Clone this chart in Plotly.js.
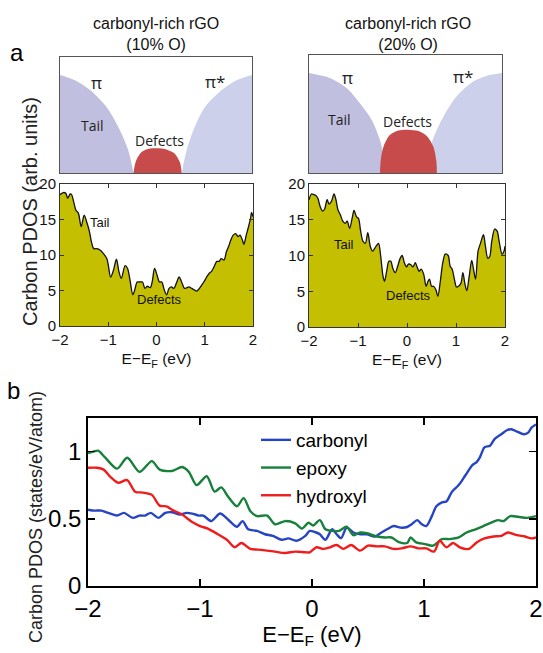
<!DOCTYPE html>
<html>
<head>
<meta charset="utf-8">
<script src="https://cdn.plot.ly/plotly-3.0.1.min.js"></script>
<style>html,body{margin:0;padding:0;background:#fff;}#chart{width:543px;height:653px;}</style>
</head>
<body>
<div id="chart"></div>
<script>
// ---------- Panel a : schematic outlines ----------
const schem10_piE   = [-2.0, -1.69, -1.375, -1.03, -0.79, -0.58, -0.47];
const schem10_piVal = [0.845, 0.80, 0.716, 0.57, 0.40, 0.198, 0];
const schem10_pisE   = [0.535, 0.64, 0.81, 1.02, 1.37, 1.68, 2.0];
const schem10_pisVal = [0, 0.198, 0.40, 0.57, 0.716, 0.80, 0.845];
const schem10_defE   = [-0.47, -0.42, -0.3, -0.15, 0.03, 0.2, 0.38, 0.5, 0.535];
const schem10_defVal = [0, 0.1, 0.18, 0.208, 0.213, 0.205, 0.17, 0.09, 0];

const schem20_piE   = [-2.0, -1.57, -1.22, -0.95, -0.70, -0.53, -0.43, -0.39];
const schem20_piVal = [0.847, 0.805, 0.72, 0.593, 0.45, 0.28, 0.11, 0];
const schem20_pisE   = [0.51, 0.545, 0.79, 1.06, 1.41, 1.69, 2.0];
const schem20_pisVal = [0, 0.254, 0.48, 0.65, 0.777, 0.825, 0.847];
const schem20_defE   = [-0.53, -0.51, -0.45, -0.33, -0.15, 0.06, 0.27, 0.45, 0.58, 0.64, 0.65];
const schem20_defVal = [0, 0.12, 0.23, 0.32, 0.36, 0.367, 0.355, 0.31, 0.22, 0.1, 0];

// ---------- Panel a : carbon PDOS (arb. units) ----------
const pdos10_E = [-2.00,-1.93,-1.88,-1.84,-1.79,-1.76,-1.71,-1.67,-1.62,-1.56,-1.50,-1.44,-1.39,-1.34,-1.30,-1.24,-1.17,-1.10,-1.03,-1.00,-0.95,-0.89,-0.83,-0.78,-0.73,-0.65,-0.60,-0.55,-0.49,-0.45,-0.40,-0.34,-0.29,-0.24,-0.19,-0.13,-0.09,-0.04,0.01,0.06,0.11,0.16,0.21,0.26,0.31,0.36,0.41,0.47,0.52,0.58,0.63,0.67,0.73,0.78,0.83,0.89,0.94,0.98,1.04,1.09,1.14,1.19,1.25,1.30,1.34,1.40,1.45,1.50,1.54,1.59,1.64,1.69,1.73,1.78,1.81,1.86,1.90,1.95,1.97,2.00];
const pdos10_val = [18.5,18.8,18.7,18.0,18.6,18.5,17.3,16.3,15.9,14.0,15.6,14.5,13.3,11.6,10.9,10.9,10.7,10.2,9.5,8.6,6.9,7.9,9.4,7.7,6.7,8.5,8.1,6.5,4.4,5.1,6.2,6.2,6.2,5.3,5.6,5.4,6.2,8.1,7.2,6.2,6.2,5.1,4.4,5.3,5.5,5.3,6.0,6.9,6.2,5.3,5.4,5.5,5.3,5.1,4.9,5.3,5.8,6.2,6.9,7.4,7.7,8.3,9.1,9.1,9.5,9.3,10.5,11.3,12.1,12.8,13.0,12.6,12.8,12.1,11.5,12.8,13.8,15.2,16.0,15.4];

const pdos20_E = [-2.00,-1.95,-1.90,-1.86,-1.82,-1.77,-1.72,-1.68,-1.63,-1.59,-1.54,-1.49,-1.45,-1.41,-1.36,-1.31,-1.26,-1.22,-1.17,-1.12,-1.08,-1.03,-0.99,-0.95,-0.90,-0.85,-0.80,-0.75,-0.70,-0.66,-0.61,-0.58,-0.54,-0.49,-0.46,-0.41,-0.37,-0.33,-0.29,-0.24,-0.19,-0.14,-0.10,-0.05,-0.01,0.03,0.08,0.12,0.17,0.20,0.25,0.29,0.34,0.39,0.43,0.46,0.50,0.54,0.59,0.63,0.68,0.73,0.78,0.84,0.88,0.92,0.97,1.01,1.05,1.10,1.14,1.18,1.22,1.27,1.32,1.36,1.40,1.45,1.50,1.56,1.60,1.65,1.69,1.73,1.79,1.84,1.88,1.94,1.98,2.00];
const pdos20_val = [17.8,18.6,18.5,18.4,18.0,16.8,16.2,16.5,17.8,17.2,17.6,18.6,17.8,16.4,15.7,14.8,14.5,14.8,13.8,15.2,16.3,15.4,15.2,13.6,12.0,11.7,13.2,11.3,10.6,11.0,11.5,11.7,10.1,7.1,6.4,8.0,9.2,9.2,8.2,7.6,8.5,9.6,10.0,8.9,8.4,8.8,8.7,8.4,9.0,8.5,7.8,8.1,7.4,5.7,6.4,6.7,5.7,5.7,5.2,4.3,6.4,9.0,10.2,10.0,8.5,8.1,6.6,5.6,5.7,6.1,7.6,6.1,5.1,7.1,9.3,8.0,6.7,10.6,11.7,12.9,11.3,9.6,9.9,12.0,13.7,13.4,12.0,10.2,10.6,11.3];

// ---------- Panel b : carbon PDOS (states/eV/atom) ----------
const carbonyl_E = [-2.00,-1.94,-1.88,-1.82,-1.74,-1.68,-1.60,-1.54,-1.49,-1.44,-1.37,-1.31,-1.25,-1.18,-1.12,-1.07,-1.01,-0.97,-0.90,-0.82,-0.75,-0.67,-0.62,-0.57,-0.49,-0.42,-0.35,-0.27,-0.21,-0.14,-0.06,-0.02,0.03,0.07,0.12,0.18,0.22,0.26,0.31,0.37,0.43,0.49,0.56,0.61,0.67,0.73,0.79,0.85,0.89,0.94,0.98,1.02,1.07,1.11,1.16,1.20,1.25,1.31,1.37,1.43,1.47,1.50,1.54,1.59,1.63,1.69,1.74,1.78,1.83,1.89,1.93,1.96,2.00];
const carbonyl_val = [0.568,0.561,0.561,0.544,0.524,0.544,0.507,0.524,0.524,0.544,0.507,0.544,0.549,0.532,0.544,0.539,0.524,0.524,0.483,0.539,0.495,0.441,0.483,0.422,0.410,0.385,0.373,0.344,0.354,0.337,0.373,0.410,0.400,0.385,0.344,0.422,0.385,0.356,0.434,0.398,0.385,0.385,0.368,0.393,0.422,0.446,0.434,0.439,0.459,0.490,0.459,0.446,0.520,0.593,0.622,0.629,0.702,0.751,0.824,0.898,0.922,0.959,1.032,1.044,1.093,1.129,1.159,1.166,1.149,1.129,1.141,1.178,1.202];

const epoxy_E = [-2.00,-1.95,-1.91,-1.85,-1.74,-1.65,-1.54,-1.43,-1.36,-1.25,-1.16,-1.10,-1.03,-0.94,-0.87,-0.81,-0.75,-0.67,-0.61,-0.55,-0.49,-0.40,-0.33,-0.24,-0.15,-0.09,-0.03,0.01,0.07,0.12,0.18,0.24,0.31,0.37,0.43,0.49,0.58,0.65,0.71,0.77,0.85,0.88,0.93,1.01,1.08,1.16,1.23,1.31,1.38,1.46,1.53,1.60,1.66,1.71,1.77,1.84,1.92,2.00];
const epoxy_val = [0.988,1.000,1.007,0.959,0.873,0.954,0.849,0.929,0.866,0.856,0.885,0.849,0.751,0.817,0.702,0.734,0.666,0.593,0.654,0.556,0.520,0.524,0.459,0.483,0.466,0.427,0.471,0.450,0.490,0.422,0.410,0.410,0.441,0.378,0.398,0.393,0.368,0.361,0.361,0.329,0.320,0.361,0.324,0.312,0.300,0.349,0.349,0.361,0.398,0.422,0.446,0.471,0.490,0.483,0.520,0.515,0.507,0.520];

const hydroxyl_E = [-2.00,-1.92,-1.86,-1.80,-1.73,-1.65,-1.58,-1.51,-1.43,-1.36,-1.30,-1.24,-1.16,-1.07,-1.00,-0.93,-0.84,-0.76,-0.69,-0.63,-0.55,-0.48,-0.40,-0.33,-0.24,-0.15,-0.06,-0.02,0.04,0.10,0.16,0.22,0.28,0.35,0.43,0.50,0.58,0.65,0.73,0.80,0.88,0.95,1.02,1.09,1.14,1.20,1.26,1.32,1.40,1.47,1.54,1.62,1.69,1.75,1.83,1.90,1.96,2.00];
const hydroxyl_val = [0.880,0.880,0.866,0.812,0.768,0.788,0.702,0.695,0.678,0.598,0.593,0.563,0.532,0.476,0.446,0.427,0.385,0.344,0.288,0.320,0.276,0.271,0.263,0.256,0.246,0.256,0.251,0.251,0.288,0.276,0.288,0.305,0.276,0.305,0.263,0.300,0.295,0.295,0.276,0.280,0.295,0.280,0.280,0.256,0.337,0.288,0.320,0.288,0.276,0.324,0.354,0.368,0.373,0.398,0.378,0.368,0.354,0.361];

// ---------- tick labels ----------
const energyTicks = [-2, -1, 0, 1, 2];
const energyTickText = ['\u22122', '\u22121', '0', '1', '2'];
const pdosATicks = [0, 5, 10, 15, 20];
const pdosBTicks = [0, 0.5, 1];
const pdosBTickText = ['0', '0.5', '1'];

const FONT = 'Liberation Sans, Arial, Helvetica, sans-serif';
const SFONT = 'Open Sans, Noto Sans, sans-serif';
const lobeL = '#c0bfdf', lobeR = '#cdd0ea', defCol = '#c84b4b', olive = '#c4bf00';

function area(x, y, xa, ya, col) {
  return {x: x, y: y, xaxis: xa, yaxis: ya, type: 'scatter', mode: 'lines',
    line: {shape: 'spline', smoothing: 0.8, width: 0, color: col},
    fill: 'tozeroy', fillcolor: col, showlegend: false, hoverinfo: 'skip'};
}
function pdosA(x, y, xa, ya) {
  return {x: x, y: y, xaxis: xa, yaxis: ya, type: 'scatter', mode: 'lines',
    line: {shape: 'spline', smoothing: 0.9, width: 1.3, color: '#111'},
    fill: 'tozeroy', fillcolor: olive, showlegend: false};
}
function lineB(x, y, name, col) {
  return {x: x, y: y, xaxis: 'x5', yaxis: 'y5', type: 'scatter', mode: 'lines', name: name,
    line: {shape: 'spline', smoothing: 0.8, width: 2.4, color: col}};
}

const data = [
  area(schem10_piE, schem10_piVal, 'x', 'y', lobeL),
  area(schem10_pisE, schem10_pisVal, 'x', 'y', lobeR),
  area(schem10_defE, schem10_defVal, 'x', 'y', defCol),
  area(schem20_piE, schem20_piVal, 'x2', 'y2', lobeL),
  area(schem20_pisE, schem20_pisVal, 'x2', 'y2', lobeR),
  area(schem20_defE, schem20_defVal, 'x2', 'y2', defCol),
  pdosA(pdos10_E, pdos10_val, 'x3', 'y3'),
  pdosA(pdos20_E, pdos20_val, 'x4', 'y4'),
  lineB(carbonyl_E, carbonyl_val, 'carbonyl', '#2745c2'),
  lineB(epoxy_E, epoxy_val, 'epoxy', '#17803a'),
  lineB(hydroxyl_E, hydroxyl_val, 'hydroxyl', '#f01c1c')
];

function schemAxis(dom) {
  return {domain: dom, range: [-2, 2], showline: true, mirror: true, linecolor: '#555', linewidth: 1,
    showgrid: false, zeroline: false, showticklabels: false, ticks: '', fixedrange: true};
}
function schemYAxis(dom) {
  return {domain: dom, range: [0, 1], showline: true, mirror: true, linecolor: '#555', linewidth: 1,
    showgrid: false, zeroline: false, showticklabels: false, ticks: '', fixedrange: true};
}
function aX(dom) {
  return {domain: dom, range: [-2, 2], showline: true, mirror: 'ticks', linecolor: '#333', linewidth: 1,
    ticks: 'inside', ticklen: 4, tickcolor: '#333', tickvals: energyTicks, ticktext: energyTickText,
    showgrid: false, zeroline: false, tickfont: {family: FONT, size: 15, color: '#111'},
    title: {text: 'E\u2212E<sub>F</sub> (eV)', font: {family: FONT, size: 15.5, color: '#111'}, standoff: 6}};
}
function aY(dom, anchor) {
  return {domain: dom, range: [0, 20], anchor: anchor, showline: true, mirror: 'ticks', linecolor: '#333', linewidth: 1,
    ticks: 'inside', ticklen: 4, tickcolor: '#333', tickvals: pdosATicks,
    showgrid: false, zeroline: false, tickfont: {family: FONT, size: 15, color: '#111'}};
}

const P = (px) => px / 543, Q = (py) => 1 - py / 653;
function pa(text, px, py, size, extra) {
  return Object.assign({text: text, x: P(px), y: Q(py), xref: 'paper', yref: 'paper', showarrow: false,
    xanchor: 'center', yanchor: 'middle', font: {family: FONT, size: size, color: '#111'}}, extra || {});
}

const layout = {
  width: 543, height: 653, margin: {l: 0, r: 0, t: 0, b: 0},
  paper_bgcolor: '#fff', plot_bgcolor: 'rgba(0,0,0,0)', showlegend: true,
  xaxis: Object.assign(schemAxis([P(60), P(252)]), {anchor: 'y'}),
  yaxis: Object.assign(schemYAxis([Q(173), Q(57)]), {anchor: 'x'}),
  xaxis2: Object.assign(schemAxis([P(309), P(502)]), {anchor: 'y2'}),
  yaxis2: Object.assign(schemYAxis([Q(173), Q(55)]), {anchor: 'x2'}),
  xaxis3: Object.assign(aX([P(60), P(253)]), {anchor: 'y3'}),
  yaxis3: aY([Q(326), Q(184)], 'x3'),
  xaxis4: Object.assign(aX([P(309), P(505)]), {anchor: 'y4'}),
  yaxis4: aY([Q(327), Q(184)], 'x4'),
  xaxis5: {domain: [P(88), P(536)], anchor: 'y5', range: [-2, 2], showline: true, mirror: 'ticks',
    linecolor: '#000', linewidth: 1.8, ticks: 'inside', ticklen: 7, tickwidth: 1.5, tickcolor: '#000',
    tickvals: energyTicks, ticktext: energyTickText, showgrid: false, zeroline: false,
    tickfont: {family: FONT, size: 24, color: '#000'},
    title: {text: 'E\u2212E<sub>F</sub> (eV)', font: {family: FONT, size: 22, color: '#000'}, standoff: 1}},
  yaxis5: {domain: [Q(586), Q(418)], anchor: 'x5', range: [0, 1.25], showline: true, mirror: 'ticks',
    linecolor: '#000', linewidth: 1.8, ticks: 'inside', ticklen: 7, tickwidth: 1.5, tickcolor: '#000',
    tickvals: pdosBTicks, ticktext: pdosBTickText, showgrid: false, zeroline: false,
    tickfont: {family: FONT, size: 24, color: '#000'}},
  legend: {x: P(256), y: Q(421), xanchor: 'left', yanchor: 'top', bgcolor: 'rgba(0,0,0,0)',
    font: {family: FONT, size: 19, color: '#000'}, tracegroupgap: 0},
  annotations: [
    pa('a', 17, 53, 24, {font: {family: FONT, size: 24, color: '#000'}}),
    pa('b', 13, 390, 24, {font: {family: FONT, size: 24, color: '#000'}}),
    pa('carbonyl-rich rGO<br>(10% O)', 156, 34, 16),
    pa('carbonyl-rich rGO<br>(20% O)', 408, 34, 16),
    pa('Carbon PDOS (arb. units)', 30, 212, 20, {textangle: -90, font: {family: FONT, size: 20, color: '#222'}}),
    pa('Carbon PDOS (states/eV/atom)', 36, 517, 18, {textangle: -90, font: {family: FONT, size: 18, color: '#222'}}),
    // schematic labels
    {text: '\u03c0', x: -1.23, y: 0.78, xref: 'x', yref: 'y', showarrow: false, font: {family: SFONT, size: 17, color: '#222'}},
    {text: '\u03c0*', x: 1.22, y: 0.79, xref: 'x', yref: 'y', showarrow: false, font: {family: SFONT, size: 17, color: '#222'}},
    {text: 'Tail', x: -1.33, y: 0.41, xref: 'x', yref: 'y', showarrow: false, font: {family: SFONT, size: 14, color: '#222'}},
    {text: 'Defects', x: 0.08, y: 0.28, xref: 'x', yref: 'y', showarrow: false, font: {family: SFONT, size: 14, color: '#222'}},
    {text: '\u03c0', x: -1.2, y: 0.81, xref: 'x2', yref: 'y2', showarrow: false, font: {family: SFONT, size: 17, color: '#222'}},
    {text: '\u03c0*', x: 1.2, y: 0.82, xref: 'x2', yref: 'y2', showarrow: false, font: {family: SFONT, size: 17, color: '#222'}},
    {text: 'Tail', x: -1.36, y: 0.45, xref: 'x2', yref: 'y2', showarrow: false, font: {family: SFONT, size: 14, color: '#222'}},
    {text: 'Defects', x: 0.05, y: 0.44, xref: 'x2', yref: 'y2', showarrow: false, font: {family: SFONT, size: 14, color: '#222'}},
    // PDOS labels
    {text: 'Tail', x: -1.17, y: 14.6, xref: 'x3', yref: 'y3', showarrow: false, font: {family: FONT, size: 13, color: '#111'}},
    {text: 'Defects', x: 0.07, y: 3.7, xref: 'x3', yref: 'y3', showarrow: false, font: {family: FONT, size: 13, color: '#111'}},
    {text: 'Tail', x: -1.29, y: 11.5, xref: 'x4', yref: 'y4', showarrow: false, font: {family: FONT, size: 13, color: '#111'}},
    {text: 'Defects', x: 0.03, y: 4.4, xref: 'x4', yref: 'y4', showarrow: false, font: {family: FONT, size: 13, color: '#111'}}
  ]
};

Plotly.newPlot('chart', data, layout, {staticPlot: true, displayModeBar: false});
</script>
</body>
</html>
